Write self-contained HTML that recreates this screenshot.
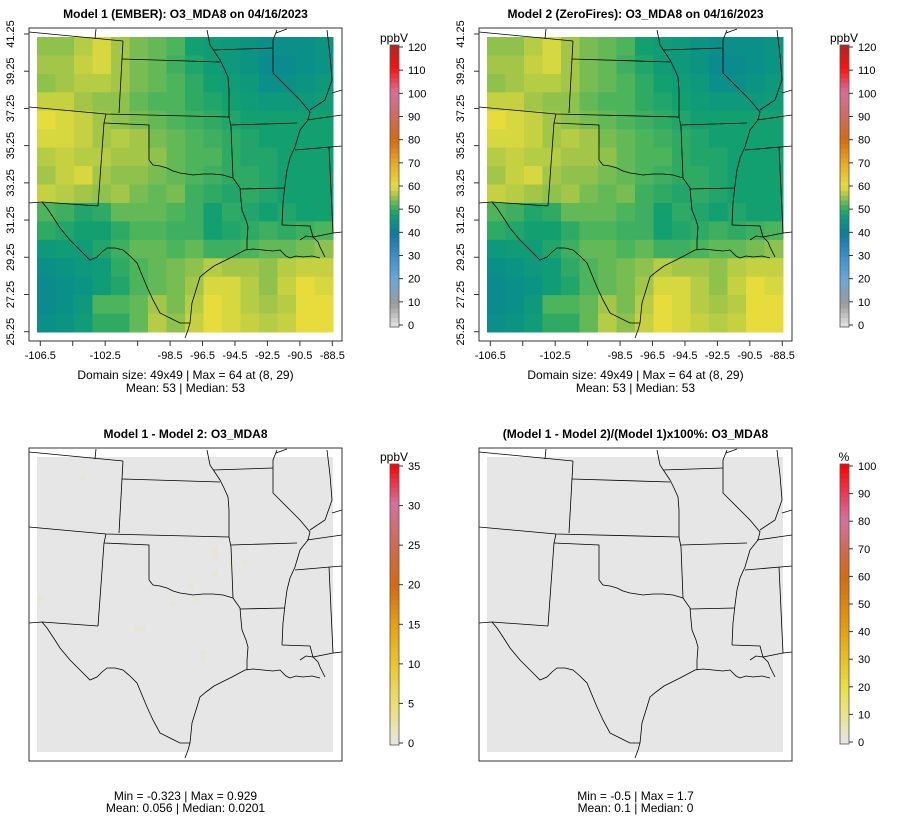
<!DOCTYPE html>
<html><head><meta charset="utf-8"><style>
html,body{margin:0;padding:0;background:#fff}
svg{display:block;font-family:"Liberation Sans",sans-serif}
</style></head><body>
<svg id="c" width="900" height="840" viewBox="0 0 900 840"></svg>
<script>
// ---- data ----
const lonTicks=[-106.5,-104.5,-102.5,-100.5,-98.5,-96.5,-94.5,-92.5,-90.5,-88.5];
const lonLabels=["-106.5","","-102.5","","-98.5","-96.5","-94.5","-92.5","-90.5","-88.5"];
const latTicks=["41.25","39.25","37.25","35.25","33.25","31.25","29.25","27.25","25.25"];
const cbTicksConc=[0,10,20,30,40,50,60,70,80,90,100,110,120];
const cbTicksDiff=[0,5,10,15,20,25,30,35];
const cbTicksPct=[0,10,20,30,40,50,60,70,80,90,100];
const model1=[
[55,55,57,59,56,54,53,52,48,47,46,45,44,44,44,45],
[56,56,58,59,56,54,53,51,49,47,46,45,43,43,44,45],
[55,56,57,57,56,54,53,52,50,48,47,46,44,44,45,46],
[58,58,56,55,55,53,52,52,50,49,48,47,46,46,46,47],
[60,59,58,56,55,54,53,52,51,50,49,48,48,48,48,48],
[59,59,58,56,57,56,54,53,52,51,50,49,48,48,48,48],
[57,58,57,57,56,56,55,53,52,52,50,49,49,48,48,48],
[56,58,59,56,55,55,54,53,52,51,50,50,49,48,48,48],
[58,57,56,55,56,54,53,54,51,50,49,50,49,48,48,48],
[52,51,49,50,53,53,53,52,51,48,50,49,48,49,48,48],
[50,49,48,48,50,52,52,51,51,48,49,50,51,50,51,52],
[46,47,47,49,51,53,53,52,53,51,51,52,53,53,54,55],
[44,45,46,47,50,52,53,54,55,57,56,56,55,57,58,58],
[43,44,45,47,49,52,53,54,56,59,59,57,55,58,60,59],
[43,44,46,52,52,53,56,54,57,60,59,57,56,57,60,60],
[44,45,47,50,50,53,57,55,58,60,59,58,57,58,60,60]];
const model2=[
[55,55,57,59,56,54,53,52,48,47,46,45,44,44,44,45],
[56,56,58,59,56,54,53,51,49,47,46,45,43,43,44,45],
[55,56,57,57,56,54,53,52,50,48,47,46,44,44,45,46],
[58,58,56,55,55,53,52,52,50,49,48,47,46,46,46,47],
[60,59,58,56,55,54,53,52,51,50,49,48,48,48,48,48],
[59,59,58,56,57,56,54,53,52,51,50,49,48,48,48,48],
[57,58,57,57,56,56,55,53,52,52,50,49,49,48,48,48],
[56,58,59,56,55,55,54,53,52,51,50,50,49,48,48,48],
[58,57,56,55,56,54,53,54,51,50,49,50,49,48,48,48],
[52,51,49,50,53,53,53,52,51,48,50,49,48,49,48,48],
[50,49,48,48,50,52,52,51,51,48,49,50,51,50,51,52],
[46,47,47,49,51,53,53,52,53,51,51,52,53,53,54,55],
[44,45,46,47,50,52,53,54,55,57,56,56,55,57,58,58],
[43,44,45,47,49,52,53,54,56,59,59,57,55,58,60,59],
[43,44,46,52,52,53,56,54,57,60,59,57,56,57,60,60],
[44,45,47,50,50,53,57,55,58,60,59,58,57,58,60,60]];
// sparse non-zero difference cells on the 49x49 grid: [col,row,value]
const diffCells=[[7,3,0.6],[29,15,0.7],[29,16,0.8],[32,17,0.6],[34,17,0.6],[29,19,0.6],[25,21,0.7],[26,23,0.6],[22,24,0.5],[16,28,0.6],[17,28,0.6],[27,32,0.6],[27,33,0.6],[0,23,0.5]];

// ---- helpers ----
const S=document.getElementById('c');const NS='http://www.w3.org/2000/svg';
function mk(t,a,p){const e=document.createElementNS(NS,t);for(const k in a)e.setAttribute(k,a[k]);(p||S).appendChild(e);return e;}
function hex(h){return [1,3,5].map(i=>parseInt(h.substr(i,2),16));}
function ramp(stops){return v=>{if(v<=stops[0][0])return stops[0][1];for(let i=1;i<stops.length;i++){if(v<=stops[i][0]){const a=stops[i-1],b=stops[i];const t=(v-a[0])/(b[0]-a[0]);const A=hex(a[1]),B=hex(b[1]);return 'rgb('+A.map((x,j)=>Math.round(x+(B[j]-x)*t)).join(',')+')';}}return stops[stops.length-1][1];};}
const concCol=ramp([[0,'#e6e6e6'],[10,'#9a9a9a'],[20,'#6aaad8'],[30,'#3a90d0'],[40,'#0c7a9e'],[44,'#0a9088'],[48,'#12a070'],[52,'#4cb45a'],[56,'#a4c648'],[60,'#e8dc3c'],[70,'#eaa820'],[80,'#d8680e'],[90,'#d06a60'],[100,'#d8709a'],[110,'#ff1010'],[120,'#b02424']]);
const diffCol=ramp([[0,'#e6e6e6'],[5,'#ece070'],[10,'#ecc828'],[15,'#e8a010'],[20,'#d8680e'],[25,'#d06a50'],[30,'#d870a0'],[35,'#ff0000']]);
const pctCol=ramp([[0,'#e6e6e6'],[20,'#ece040'],[40,'#e8a010'],[60,'#d8680e'],[70,'#d06a50'],[80,'#d870a0'],[100,'#ff0000']]);

const BX0=29,BX1=342,BY0=28,BY1=341,DX0=37,DX1=333,DY0=37,DY1=332;
const lonX=l=>40.3+(l+106.5)*(292/18);
const latY=i=>34+i*(297.7/8);

const lines=[
[[29,32],[123,41]],[[96,29],[95,39]],[[123,41],[122,59],[119,113]],[[122,59],[220,62]],
[[29,107],[106,114],[229,117]],[[104,123],[149,125],[149,160]],[[106,114],[104,123],[98,206]],
[[29,203],[42,202],[98,206]],
[[149,160],[153,165],[160,166],[167,168],[173,171],[180,173],[187,174],[193,175],[203,174],[213,174],[223,175],[233,178]],
[[229,117],[231,127],[233,178]],
[[233,178],[240,188],[241,200],[242,210],[246,220],[248,227],[247,240],[247,250]],
[[42,202],[47,208],[53,217],[60,228],[70,240],[80,250],[90,260],[97,257],[102,252],[107,248],[115,248],[123,250],[130,256],[137,263],[142,275],[147,287],[153,300],[160,313],[170,318],[180,323],[190,323]],
[[190,323],[191,313],[192,303],[196,290],[200,277],[206,272],[214,266],[220,263],[232,257],[245,250],[253,249],[263,250],[273,251],[280,250],[286,256],[290,258],[296,256],[303,257],[312,256],[320,258]],
[[190,323],[188,330],[185,338]],
[[213,50],[273,48]],
[[207,30],[210,45],[220,60],[224,68],[228,77],[229,90],[229,117]],
[[277,30],[273,40],[273,50],[273,73],[280,80],[290,90],[295,95],[300,100],[310,112],[308,120],[300,130],[295,147],[290,158],[287,170],[285,185],[283,203],[282,225]],
[[231,125],[297,123]],[[240,189],[285,188]],
[[282,225],[310,226],[313,237],[333,233]],[[329,147],[333,233],[342,232]],
[[295,150],[342,146]],[[307,120],[328,117],[342,115]],
[[327,30],[330,55],[332,80],[325,100],[310,110]],[[276,33],[287,29]],
[[300,240],[306,236],[313,237],[318,242],[320,247],[325,257]],[[332,93],[342,90]]];

function panel(ox,oy,name,drawData,title,footer,cb){
  const g=mk('g',{transform:`translate(${ox},${oy})`,});
  const cp=mk('clipPath',{id:'clip'+name},g);mk('rect',{x:BX0,y:BY0,width:BX1-BX0,height:BY1-BY0},cp);
  const rg=mk('g',{},g);
  drawData(rg);
  const mg=mk('g',{'clip-path':`url(#clip${name})`,fill:'none',stroke:'#000','stroke-width':'0.8',},g);
  lines.forEach(l=>mk('polyline',{points:l.map(p=>p.join(',')).join(' ')},mg));
  const fr=mk('rect',{x:BX0,y:BY0,width:BX1-BX0,height:BY1-BY0,fill:'none',stroke:'#333','stroke-width':'1'},g);
  
  
  const t=mk('text',{x:(BX0+BX1)/2,y:18,'text-anchor':'middle','font-size':'12','font-weight':'bold'},g);t.textContent=title;
  
  
  footer.forEach((f,i)=>{const e=mk('text',{x:(BX0+BX1)/2,y:f[1],'text-anchor':'middle','font-size':'12'},g);e.textContent=f[0];
    
    });
  const cg=mk('g',{},g);
  const n=60;const h=(cb.y1-cb.y0)/n;
  for(let i=0;i<n;i++){const v=cb.max*(i+0.5)/n;mk('rect',{x:390,y:cb.y1-(i+1)*h,width:9,height:h+0.4,fill:cb.col(v)},cg);}
  mk('rect',{x:390,y:cb.y0,width:9,height:cb.y1-cb.y0,fill:'none',stroke:'#555','stroke-width':'0.8'},cg);
  cb.ticks.forEach(v=>{const y=cb.y1-(v/cb.max)*(cb.y1-cb.y0-4)-2;mk('line',{x1:399,x2:403,y1:y,y2:y,stroke:'#333'},cg);
    const e=mk('text',{x:408,y:y+4,'font-size':'11'},cg);e.textContent=v;
    
    });
  const u=mk('text',{x:394,y:cb.y0-3,'text-anchor':'middle','font-size':'12'},cg);u.textContent=cb.unit;
  
  
  return g;
}
function axes(g){
  const ag=mk('g',{'font-size':'11'},g);
  mk('line',{x1:lonX(lonTicks[0]),x2:lonX(lonTicks[lonTicks.length-1]),y1:BY1,y2:BY1,stroke:'#333'},ag);
  lonTicks.forEach((l,i)=>{const x=lonX(l);mk('line',{x1:x,x2:x,y1:BY1,y2:BY1+5,stroke:'#333'},ag);
    if(lonLabels[i]){const e=mk('text',{x:x,y:359,'text-anchor':'middle'},ag);e.textContent=lonLabels[i];
      
      }});
  latTicks.forEach((s,i)=>{const y=latY(i);mk('line',{x1:BX0-5,x2:BX0,y1:y,y2:y,stroke:'#333'},ag);
    const e=mk('text',{x:0,y:0,'text-anchor':'middle',transform:`translate(14,${y}) rotate(-90)`},ag);e.textContent=s;
    
    });
}
function coarse(arr){return rg=>{const R=arr.length,C=arr[0].length;const w=(DX1-DX0)/C,h=(DY1-DY0)/R;
  arr.forEach((row,r)=>row.forEach((v,c)=>mk('rect',{x:DX0+c*w,y:DY0+r*h,width:w+0.5,height:h+0.5,fill:concCol(v)},rg)));};}
function diffDraw(cells,col){return rg=>{mk('rect',{x:DX0,y:DY0,width:DX1-DX0,height:DY1-DY0,fill:col(0)},rg);
  const w=(DX1-DX0)/49,h=(DY1-DY0)/49;cells.forEach(c=>mk('rect',{x:DX0+c[0]*w,y:DY0+c[1]*h,width:w,height:h,fill:col(c[2])},rg));};}

const conc={y0:45,y1:327,max:120,ticks:cbTicksConc,col:concCol,unit:'ppbV'};
const p1=panel(0,0,'panel-model1',coarse(model1),'Model 1 (EMBER): O3_MDA8 on 04/16/2023',[['Domain size: 49x49 | Max = 64 at (8, 29)',379],['Mean: 53 |  Median: 53',392]],conc);axes(p1);
const p2=panel(450,0,'panel-model2',coarse(model2),'Model 2 (ZeroFires): O3_MDA8 on 04/16/2023',[['Domain size: 49x49 | Max = 64 at (8, 29)',379],['Mean: 53 |  Median: 53',392]],conc);axes(p2);
panel(0,420,'panel-difference',diffDraw(diffCells,diffCol),'Model 1 - Model 2: O3_MDA8',[['Min = -0.323 | Max = 0.929',380],['Mean: 0.056 |  Median: 0.0201',392]],{y0:44,y1:325,max:35,ticks:cbTicksDiff,col:diffCol,unit:'ppbV'});
panel(450,420,'panel-percent-difference',diffDraw([],pctCol),'(Model 1 - Model 2)/(Model 1)x100%: O3_MDA8',[['Min = -0.5 | Max = 1.7',380],['Mean: 0.1 |  Median: 0',392]],{y0:44,y1:324,max:100,ticks:cbTicksPct,col:pctCol,unit:'%'});
</script>
</body></html>
